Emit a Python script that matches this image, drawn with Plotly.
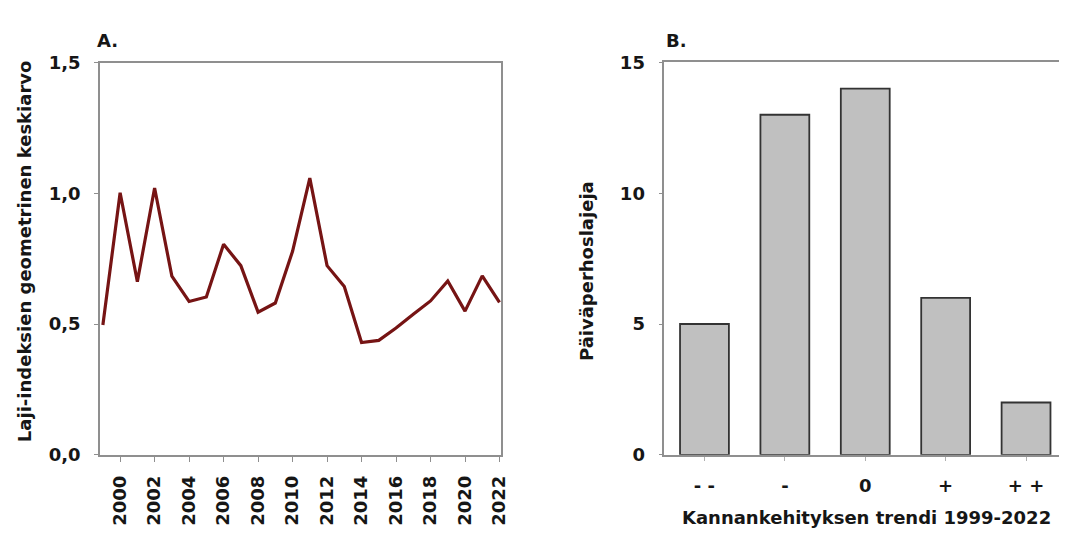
import plotly.graph_objects as go

# ---- Data ----
years = list(range(1999, 2023))
index_mean = [0.497, 1.003, 0.663, 1.021, 0.684, 0.587, 0.604, 0.806, 0.724, 0.546,
              0.581, 0.779, 1.059, 0.724, 0.644, 0.430, 0.438, 0.485, 0.538, 0.589,
              0.665, 0.550, 0.685, 0.583]

trend_cats = ["- -", "-", "0", "+", "+ +"]
species_counts = [5, 13, 14, 6, 2]

year_ticks = list(range(2000, 2023, 2))
y_ticks_a = [0.0, 0.5, 1.0, 1.5]
y_ticklabels_a = ["0,0", "0,5", "1,0", "1,5"]
y_ticks_b = [0, 5, 10, 15]

FONT = "DejaVu Sans"
TXT = "#161616"
AX = "#8f8f8f"

fig = go.Figure()
fig.add_trace(go.Scatter(x=years, y=index_mean, mode="lines",
                         line=dict(color="#761414", width=3.2),
                         xaxis="x", yaxis="y", showlegend=False))
fig.add_trace(go.Bar(x=list(range(len(trend_cats))), y=species_counts,
                     marker=dict(color="#c0c0c0", line=dict(color="#333333", width=1.8)),
                     xaxis="x2", yaxis="y2", showlegend=False))

tickfont = dict(family=FONT, size=18, color=TXT, weight="bold")

fig.update_layout(
    width=1067, height=542,
    margin=dict(l=0, r=0, t=0, b=0),
    paper_bgcolor="white", plot_bgcolor="white",
    bargap=0.392,
    xaxis=dict(domain=[100.7/1067, 505/1067], range=[1998.83, 2022.1],
               tickvals=year_ticks, ticktext=[str(y) for y in year_ticks],
               tickangle=-90, ticks="outside", ticklen=5, tickcolor=AX, tickwidth=1.2,
               showline=True, linecolor=AX, linewidth=1.5, mirror=True,
               showgrid=False, zeroline=False, tickfont=tickfont,
               ticklabelstandoff=7, anchor="y"),
    yaxis=dict(domain=[1-461.7/542, 1-54/542], range=[0, 1.5],
               tickvals=y_ticks_a, ticktext=y_ticklabels_a,
               ticks="outside", ticklen=4, tickcolor=AX, tickwidth=1.2,
               showline=True, linecolor=AX, linewidth=1.5, mirror=True,
               showgrid=False, zeroline=False, tickfont=tickfont,
               ticklabelstandoff=10, anchor="x"),
    xaxis2=dict(domain=[669.3/1067, 1.0], range=[-0.5, 4.41],
                tickvals=list(range(len(trend_cats))), ticktext=trend_cats,
                ticks="outside", ticklen=4, tickcolor="#b0b0b0", tickwidth=1.2,
                showline=True, linecolor=AX, linewidth=1.5, mirror=True,
                showgrid=False, zeroline=False, tickfont=tickfont,
                ticklabelstandoff=10, anchor="y2"),
    yaxis2=dict(domain=[1-461.7/542, 1-53.5/542], range=[0, 15],
                tickvals=y_ticks_b,
                ticks="outside", ticklen=4, tickcolor=AX, tickwidth=1.2,
                showline=True, linecolor=AX, linewidth=1.5, mirror=False,
                showgrid=False, zeroline=False, tickfont=tickfont,
                ticklabelstandoff=10, anchor="x2"),
)

titlefont = dict(family=FONT, size=18, color=TXT, weight="bold")
ann = [
    dict(text="A.", x=96/1067, y=1-31/542, xanchor="left", yanchor="middle",
         font=titlefont),
    dict(text="B.", x=669/1067, y=1-31/542, xanchor="left", yanchor="middle",
         font=titlefont),
    dict(text="Laji-indeksien geometrinen keskiarvo", x=25/1067, y=1-250/542,
         xanchor="center", yanchor="middle", textangle=-90, font=titlefont),
    dict(text="Päiväperhoslajeja", x=591/1067, y=1-271/542,
         xanchor="center", yanchor="middle", textangle=-90, font=titlefont),
    dict(text="Kannankehityksen trendi 1999-2022", x=873/1067, y=1-527/542,
         xanchor="center", yanchor="middle", font=titlefont),
]
for a in ann:
    a.update(xref="paper", yref="paper", showarrow=False)
fig.update_layout(annotations=ann)

fig.write_html("out.html")
